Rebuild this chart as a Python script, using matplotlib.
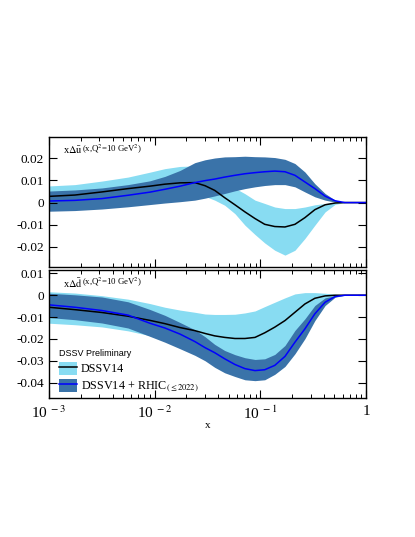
import numpy as np
import matplotlib
matplotlib.use("Agg")
import matplotlib.pyplot as plt
from matplotlib.patches import Patch
from matplotlib.lines import Line2D

plt.rcParams['font.family'] = ['Liberation Serif', 'DejaVu Serif']
plt.rcParams['mathtext.fontset'] = 'stix'
plt.rcParams['axes.unicode_minus'] = False

# x grid shared by both panels
x = [0.001, 0.00176, 0.00317, 0.0056, 0.009, 0.0125, 0.0174, 0.024, 0.030, 0.037,
     0.046, 0.0575, 0.0715, 0.089, 0.11, 0.137, 0.171, 0.2125, 0.264, 0.328,
     0.41, 0.51, 0.63, 0.785, 1.0]

# x*Delta ubar, Q^2 = 10 GeV^2
u_dssv14 = [0.0028, 0.0034, 0.0048, 0.0063, 0.0074, 0.0083, 0.0089, 0.0090, 0.0076, 0.0055,
            0.0022, -0.0010, -0.0042, -0.0072, -0.0098, -0.0108, -0.0110, -0.0098, -0.0068, -0.0032,
            -0.0010, -0.0002, 0.0, 0.0, 0.0]
u_dssv14_hi = [0.0075, 0.0081, 0.0097, 0.0115, 0.0137, 0.0153, 0.0163, 0.0165, 0.0150, 0.0125,
               0.0095, 0.0065, 0.0040, 0.0011, -0.0004, -0.0020, -0.0027, -0.0027, -0.0020, -0.0010,
               -0.0004, -0.0001, 0.0, 0.0, 0.0]
u_dssv14_lo = [-0.0019, -0.0013, -0.0001, 0.0011, 0.0012, 0.0014, 0.0017, 0.0035, 0.0028, 0.0011,
               -0.0012, -0.0050, -0.0102, -0.0144, -0.0182, -0.0215, -0.0237, -0.0215, -0.0162, -0.0102,
               -0.0042, -0.0008, 0.0, 0.0, 0.0]
u_rhic = [0.0007, 0.0010, 0.0018, 0.0033, 0.0047, 0.0060, 0.0074, 0.0090, 0.0099, 0.0106,
          0.0115, 0.0123, 0.0130, 0.0135, 0.0139, 0.0142, 0.0139, 0.0123, 0.0093, 0.0063,
          0.0029, 0.0008, 0.0, 0.0, 0.0]
u_rhic_hi = [0.0052, 0.0057, 0.0066, 0.0081, 0.0098, 0.0118, 0.0145, 0.0180, 0.0193, 0.0201,
             0.0206, 0.0207, 0.0209, 0.0207, 0.0206, 0.0203, 0.0195, 0.0176, 0.0138, 0.0085,
             0.0041, 0.0011, 0.0, 0.0, 0.0]
u_rhic_lo = [-0.0039, -0.0036, -0.0029, -0.0019, -0.0009, -0.0002, 0.0004, 0.0011, 0.0020, 0.0030,
             0.0041, 0.0053, 0.0063, 0.0071, 0.0077, 0.0081, 0.0081, 0.0071, 0.0048, 0.0026,
             0.0011, 0.0002, 0.0, 0.0, 0.0]

# x*Delta dbar, Q^2 = 10 GeV^2
d_dssv14 = [-0.0055, -0.0066, -0.0079, -0.0096, -0.0115, -0.0130, -0.0148, -0.0162, -0.0175, -0.0186,
            -0.0193, -0.0198, -0.0198, -0.0193, -0.0172, -0.0146, -0.0116, -0.0078, -0.0040, -0.0014,
            -0.0003, 0.0, 0.0, 0.0, 0.0]
d_dssv14_hi = [0.0016, 0.0010, -0.0002, -0.0018, -0.0038, -0.0055, -0.0068, -0.0078, -0.0086, -0.0088,
               -0.0088, -0.0087, -0.0081, -0.0072, -0.0052, -0.0032, -0.0012, 0.0006, 0.0012, 0.0012,
               0.0009, 0.0005, 0.0002, 0.0, 0.0]
d_dssv14_lo = [-0.0128, -0.0135, -0.0145, -0.0163, -0.0185, -0.0210, -0.0235, -0.0255, -0.0270, -0.0290,
               -0.0300, -0.0305, -0.0305, -0.0305, -0.0300, -0.0285, -0.0255, -0.0205, -0.0150, -0.0090,
               -0.0035, -0.0006, 0.0, 0.0, 0.0]
d_rhic = [-0.0044, -0.0055, -0.0070, -0.0091, -0.0128, -0.0150, -0.0178, -0.0212, -0.0240, -0.0263,
          -0.0291, -0.0317, -0.0336, -0.0345, -0.0341, -0.0321, -0.0280, -0.0215, -0.0154, -0.0085,
          -0.0032, -0.0006, 0.0, 0.0, 0.0]
d_rhic_hi = [0.0009, 0.0002, -0.0008, -0.0030, -0.0065, -0.0092, -0.0125, -0.0158, -0.0190, -0.0225,
             -0.0253, -0.0272, -0.0286, -0.0294, -0.0291, -0.0271, -0.0230, -0.0161, -0.0108, -0.0047,
             -0.0012, -0.0002, 0.0, 0.0, 0.0]
d_rhic_lo = [-0.0102, -0.0112, -0.0127, -0.0150, -0.0188, -0.0215, -0.0245, -0.0275, -0.0300, -0.0330,
             -0.0355, -0.0372, -0.0387, -0.0391, -0.0387, -0.0362, -0.0326, -0.0268, -0.0199, -0.0116,
             -0.0047, -0.0009, 0.0, 0.0, 0.0]

LIGHT = '#88dcf2'
DARK = '#3a73a9'
BLUE = '#0000ff'


def draw_panel(ax, c14, lo14, hi14, cr, lor, hir):
    ax.fill_between(x, lo14, hi14, color=LIGHT, lw=0)
    ax.fill_between(x, lor, hir, color=DARK, lw=0)
    ax.plot(x, c14, color='black', lw=1.1)
    ax.plot(x, cr, color=BLUE, lw=1.1)
    ax.set_xscale('log')
    ax.set_xlim(1e-3, 1)
    ax.tick_params(which='both', direction='in', top=True, right=True, labelsize=9.5)
    ax.tick_params(which='major', length=6, width=0.8)
    ax.tick_params(which='minor', length=3, width=0.7)
    for s in ax.spines.values():
        s.set_linewidth(1.0)


def panel_label(ax, q):
    ax.text(0.043, 0.9, r'x$\Delta\bar{\mathrm{' + q + '}}$', transform=ax.transAxes,
            fontsize=7.5, va='center')
    ax.text(0.105, 0.9, r'(x,Q$^2$=10 GeV$^2$)', transform=ax.transAxes, fontsize=6.3, va='center')


fig = plt.figure(figsize=(4.15, 5.37), dpi=100)
ax1 = fig.add_axes([0.118, 0.503, 0.764, 0.242])
ax2 = fig.add_axes([0.118, 0.259, 0.764, 0.238])

draw_panel(ax1, u_dssv14, u_dssv14_lo, u_dssv14_hi, u_rhic, u_rhic_lo, u_rhic_hi)
draw_panel(ax2, d_dssv14, d_dssv14_lo, d_dssv14_hi, d_rhic, d_rhic_lo, d_rhic_hi)

ax1.set_ylim(-0.029, 0.0296)
ax1.set_yticks([-0.02, -0.01, 0, 0.01, 0.02], ['-0.02', '-0.01', '0', '0.01', '0.02'])
ax1.tick_params(axis='x', which='both', labelbottom=False)
panel_label(ax1, 'u')

ax2.set_ylim(-0.047, 0.0115)
ax2.set_yticks([-0.04, -0.03, -0.02, -0.01, 0, 0.01],
               ['-0.04', '-0.03', '-0.02', '-0.01', '0', '0.01'])
ax2.set_xticks([1e-3, 1e-2, 1e-1, 1], [r'10$^{\ -3}$', r'10$^{\ -2}$', r'10$^{\ -1}$', '1'])
ax2.tick_params(axis='x', which='major', labelsize=11, pad=5)
ax2.set_xlabel('x', fontsize=8, labelpad=-1)
panel_label(ax2, 'd')

handles = [(Patch(color=LIGHT, lw=0), Line2D([], [], color='black', lw=1.1)),
           (Patch(color=DARK, lw=0), Line2D([], [], color=BLUE, lw=1.1))]
labels = ['DSSV14', r'DSSV14 + RHIC$_{(\leq 2022)}$']
leg = ax2.legend(handles, labels, loc='lower left', frameon=False, fontsize=8.7,
                 title='DSSV Preliminary', alignment='left', handlelength=1.5,
                 handleheight=1.25, handletextpad=0.3, borderaxespad=0.0, labelspacing=0.3,
                 borderpad=0.3, bbox_to_anchor=(0.02, 0.0))
leg.get_title().set_fontfamily('Liberation Sans')
leg.get_title().set_fontsize(6.5)

fig.savefig('out.png', dpi=100)
